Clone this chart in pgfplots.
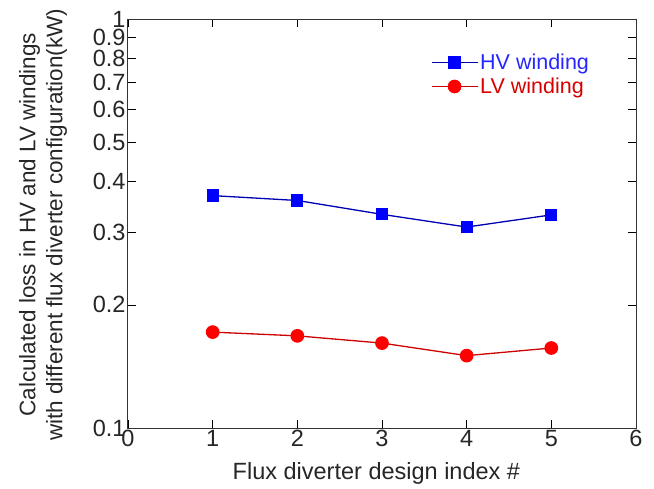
\documentclass[border=0pt]{standalone}
\usepackage{pgfplots}
\pgfplotsset{compat=1.18}
\usetikzlibrary{calc}
\usepackage{fontspec}
\setmainfont{Liberation Sans}
\begin{document}
\begin{tikzpicture}
\begin{semilogyaxis}[
  scale only axis,
  width=508pt, height=409pt,
  xmin=0, xmax=6, ymin=0.1, ymax=1,
  xtick={0,1,2,3,4,5,6},
  ytick={0.1,0.2,0.3,0.4,0.5,0.6,0.7,0.8,0.9,1},
  yticklabels={0.1,0.2,0.3,0.4,0.5,0.6,0.7,0.8,0.9,1},
  minor ytick={},
  tick align=inside,
  major tick length=8pt,
  tick style={black, line width=0.8pt},
  axis line style={black!80, line width=1pt},
  every tick label/.append style={font=\fontsize{23.5}{26}\selectfont, text=black!85},
  yticklabel style={xshift=1pt},
  xticklabel style={yshift=1pt},
  /pgf/number format/assume math mode=true,
  xlabel={Flux diverter design index \#},
  ylabel={Calculated loss in HV and LV windings\\with different flux diverter configuration(kW)},
  every axis y label/.style={at={(axis description cs:-0.167,0.497)}, rotate=90, anchor=center,
    align=center, font=\fontsize{22.5}{27}\selectfont, text=black!85},
  every axis x label/.style={at={(axis description cs:0.489,-0.11)}, anchor=center,
    font=\fontsize{23.5}{26}\selectfont, text=black!85},
  legend style={at={(0.59,0.925)}, anchor=north west, draw=none, fill=none,
    font=\fontsize{21.5}{25}\selectfont, row sep=3pt},
  legend cell align=left,
  legend image code/.code={
    \draw[#1] (0pt,0pt) -- (46pt,0pt);
    \draw[#1, only marks] plot coordinates {(23pt,0pt)};
  },
]
\addplot[color=blue!70!black, line width=1.3pt, mark=square*, mark size=5.5pt,
  mark options={fill=blue, draw=blue, solid}] coordinates {
  (1,0.370) (2,0.360) (3,0.333) (4,0.310) (5,0.332)};
\addlegendentry{\textcolor{blue!85!white}{HV winding}}
\addplot[color=red!80!black, line width=1.3pt, mark=*, mark size=6.2pt,
  mark options={fill=red, draw=red, solid}] coordinates {
  (1,0.1716) (2,0.168) (3,0.1613) (4,0.1503) (5,0.1569)};
\addlegendentry{\textcolor{red!85!black}{LV winding}}
\end{semilogyaxis}
\pgfresetboundingbox
\path[use as bounding box] ($(current axis.south west)+(-128pt,-60pt)$) rectangle ($(current axis.north east)+(18pt,19pt)$);
\end{tikzpicture}
\end{document}
